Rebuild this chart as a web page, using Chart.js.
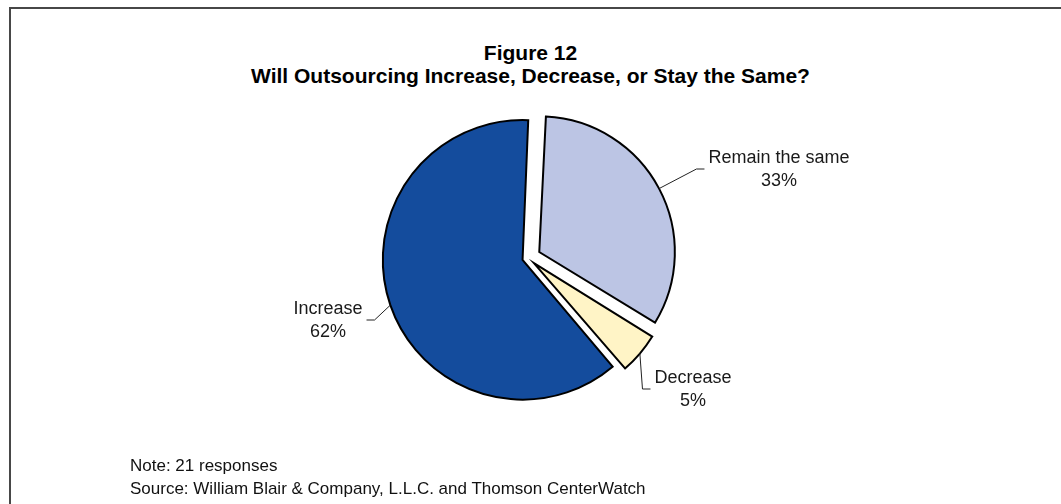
<!DOCTYPE html>
<html>
<head>
<meta charset="utf-8">
<title>Figure 12</title>
<script src="https://cdn.jsdelivr.net/npm/chart.js@4.4.1/dist/chart.umd.min.js"></script>
<style>
  html, body { margin: 0; padding: 0; background: #fff; }
  body {
    width: 1061px; height: 504px; position: relative; overflow: hidden;
    font-family: "Liberation Sans", Arial, sans-serif; color: #000;
  }
  #frame {
    position: absolute; left: 9px; top: 7px; width: 1200px; height: 700px;
    border-left: 2px solid #474747; border-top: 2px solid #474747;
  }
  #heading {
    position: absolute; left: 0; top: 41px; width: 1061px; text-align: center;
    font-weight: bold; font-size: 21px; line-height: 23px;
  }
  #chartBox { position: absolute; left: 0; top: 0; width: 1061px; height: 504px; }
  .foot { position: absolute; left: 130px; font-size: 17px; color: #111; }
</style>
</head>
<body>
<div id="frame"></div>
<div id="heading">Figure 12<br>Will Outsourcing Increase, Decrease, or Stay the Same?</div>
<div id="chartBox"><canvas id="outsourcingPie" width="1061" height="504"></canvas></div>
<div class="foot" style="top:456px">Note: 21 responses</div>
<div class="foot" style="top:479px">Source: William Blair &amp; Company, L.L.C. and Thomson CenterWatch</div>

<script>
// survey answers, in clockwise order from 12 o'clock
const categories = ['Remain the same', 'Decrease', 'Increase'];
const shares = [33, 5, 62];
const shareLabels = ['33%', '5%', '62%'];

const sliceColors = ['#bcc5e4', '#fff4c6', '#144c9d'];
const sliceOffsets = [51, 31, 23];

// where each callout text block sits, and which side the leader comes in from
const calloutCenters = [[779, 169], [693, 389], [328, 320]];
const calloutSide = ['left', 'left', 'right'];

const calloutPlugin = {
  id: 'callouts',
  afterDatasetsDraw(chart) {
    const ctx = chart.ctx;
    const meta = chart.getDatasetMeta(0);
    ctx.save();
    ctx.font = '18px "Liberation Sans", Arial, sans-serif';
    ctx.fillStyle = '#1a1a1a';
    ctx.strokeStyle = '#222';
    ctx.lineWidth = 1;
    ctx.textAlign = 'center';
    ctx.textBaseline = 'middle';

    meta.data.forEach((arc, i) => {
      const p = arc.getProps(['x', 'y', 'startAngle', 'endAngle', 'circumference', 'outerRadius'], true);
      const mid = (p.startAngle + p.endAngle) / 2;
      // same shift the arc element applies when it is exploded
      const fix = 1 - Math.sin(Math.min(Math.PI, p.circumference));
      const shift = (sliceOffsets[i] / 4) * (1 + fix);
      const sx = p.x + Math.cos(mid) * (shift + p.outerRadius);
      const sy = p.y + Math.sin(mid) * (shift + p.outerRadius);

      const lines = [categories[i], shareLabels[i]];
      const [cx, cy] = calloutCenters[i];
      const halfW = Math.max(...lines.map(t => ctx.measureText(t).width)) / 2;
      const dir = calloutSide[i] === 'left' ? -1 : 1;
      const ex = cx + dir * (halfW + 4);
      const kx = ex + dir * 8;

      ctx.beginPath();
      ctx.moveTo(sx, sy);
      ctx.lineTo(kx, cy);
      ctx.lineTo(ex, cy);
      ctx.stroke();

      ctx.fillText(lines[0], cx, cy - 11);
      ctx.fillText(lines[1], cx, cy + 12);
    });
    ctx.restore();
  }
};

new Chart(document.getElementById('outsourcingPie').getContext('2d'), {
  type: 'pie',
  data: {
    labels: categories,
    datasets: [{
      data: shares,
      backgroundColor: sliceColors,
      borderColor: '#000',
      borderWidth: 2,
      borderJoinStyle: 'miter',
      offset: sliceOffsets,
      hoverOffset: 0
    }]
  },
  options: {
    responsive: false,
    animation: false,
    events: [],
    rotation: 2.7,
    radius: 134,
    layout: { padding: { left: 0, right: 5, top: 12, bottom: 0 } },
    plugins: {
      legend: { display: false },
      title: { display: false },
      tooltip: { enabled: false }
    }
  },
  plugins: [calloutPlugin]
});
</script>
</body>
</html>
